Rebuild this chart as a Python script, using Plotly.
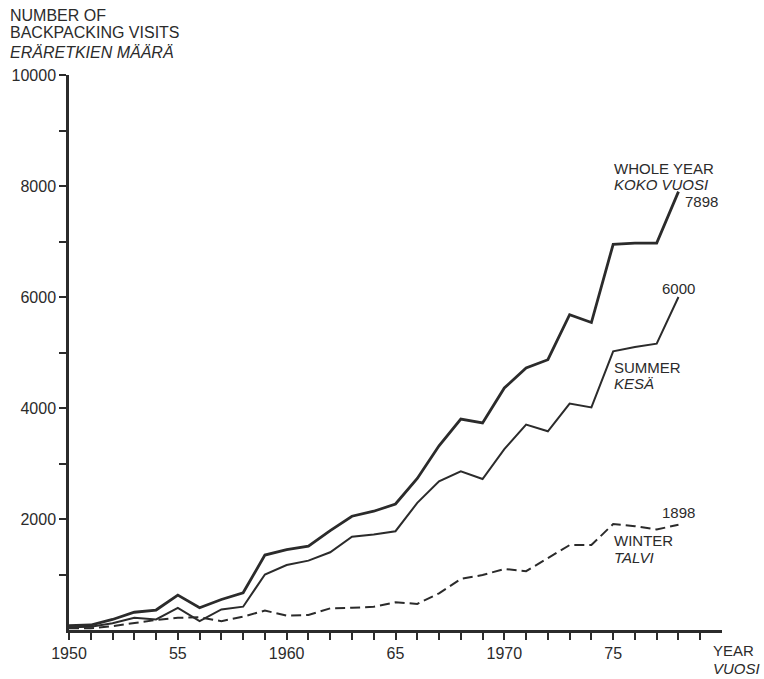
import plotly.graph_objects as go

years = list(range(1950, 1979))
whole_year = [80, 90, 190, 320, 360, 630, 400, 550, 670, 1350, 1450, 1510, 1790, 2050, 2140,
              2270, 2730, 3320, 3800, 3730, 4360, 4720, 4870, 5680, 5540, 6950, 6970, 6970, 7898]
summer = [50, 60, 120, 220, 190, 400, 160, 370, 420, 1000, 1170, 1250, 1400, 1680, 1720,
          1780, 2290, 2680, 2860, 2720, 3260, 3700, 3580, 4080, 4010, 5020, 5100, 5160, 6000]
winter = [30, 30, 70, 130, 180, 220, 230, 160, 240, 350, 260, 270, 390, 400, 420,
          500, 470, 660, 920, 990, 1100, 1060, 1300, 1530, 1530, 1910, 1870, 1810, 1898]

x_tick_vals = [1950, 1955, 1960, 1965, 1970, 1975]
x_tick_text = ["1950", "55", "1960", "65", "1970", "75"]
y_tick_vals = [2000, 4000, 6000, 8000, 10000]
y_tick_text = ["2000", "4000", "6000", "8000", "10000"]

INK = "#2b2b2b"
FONT = "Liberation Sans"

fig = go.Figure()
fig.add_trace(go.Scatter(x=years, y=winter, mode="lines",
                         line=dict(color=INK, width=2, dash="10px,5px"), name="Winter"))
fig.add_trace(go.Scatter(x=years, y=summer, mode="lines",
                         line=dict(color=INK, width=2), name="Summer"))
fig.add_trace(go.Scatter(x=years, y=whole_year, mode="lines",
                         line=dict(color=INK, width=2.8), name="Whole year"))

ann = []
fs = 15
def a(text, x, y, xref="x", yref="y", xanchor="left", yanchor="middle", xshift=0, yshift=0, size=fs):
    ann.append(dict(text=text, x=x, y=y, xref=xref, yref=yref, xanchor=xanchor, yanchor=yanchor,
                    xshift=xshift, yshift=yshift, showarrow=False,
                    font=dict(family=FONT, size=size, color=INK)))

# series labels
a("WHOLE YEAR", 1975, 8324, xshift=-1)
a("<i>KOKO VUOSI</i>", 1975, 8036, xshift=-1)
a(str(whole_year[-1]), years[-1], whole_year[-1], xanchor="left", xshift=5, yshift=-10)
a(str(summer[-1]), years[-1], summer[-1], xanchor="center", yshift=9)
a("SUMMER", 1975, 4721, xshift=-1)
a("<i>KESÄ</i>", 1975, 4450, xshift=-1)
a(str(winter[-1]), years[-1], winter[-1], xanchor="center", yshift=12)
a("WINTER", 1975, 1604, xshift=-1)
a("<i>TALVI</i>", 1975, 1315, xshift=-1)

# axis titles
a("YEAR", 0.983, -0.0378, xref="paper", yref="paper", size=15)
a("<i>VUOSI</i>", 0.983, -0.0685, xref="paper", yref="paper", size=15)
a("NUMBER OF", -0.0868, 1.108, xref="paper", yref="paper", size=16, xshift=-4)
a("BACKPACKING VISITS", -0.0868, 1.0757, xref="paper", yref="paper", size=16, xshift=-4)
a("<i>ERÄRETKIEN MÄÄRÄ</i>", -0.0868, 1.0414, xref="paper", yref="paper", size=16, xshift=-4)

fig.update_layout(
    width=764, height=679,
    margin=dict(l=65, r=42, t=75, b=49),
    paper_bgcolor="white", plot_bgcolor="white",
    showlegend=False,
    annotations=ann,
    font=dict(family=FONT, size=16, color=INK),
    xaxis=dict(range=[1950, 1980], showgrid=False, zeroline=False,
               showline=True, linewidth=2.5, linecolor=INK,
               tickmode="array", tickvals=x_tick_vals, ticktext=x_tick_text,
               ticks="outside", ticklen=7, tickwidth=2, tickcolor=INK,
               tickfont=dict(family=FONT, size=16, color=INK),
               minor=dict(tickmode="array", tickvals=list(range(1950, 1980)),
                          ticks="outside", ticklen=7, tickwidth=2, tickcolor=INK)),
    yaxis=dict(range=[0, 10000], showgrid=False, zeroline=False,
               showline=True, linewidth=2.5, linecolor=INK,
               tickmode="array", tickvals=y_tick_vals, ticktext=y_tick_text,
               ticks="outside", ticklen=7, tickwidth=2, tickcolor=INK,
               tickfont=dict(family=FONT, size=16, color=INK),
               minor=dict(tickmode="array", tickvals=[1000, 3000, 5000, 7000, 9000],
                          ticks="outside", ticklen=7, tickwidth=2, tickcolor=INK)),
)

fig.write_html("out.html")
